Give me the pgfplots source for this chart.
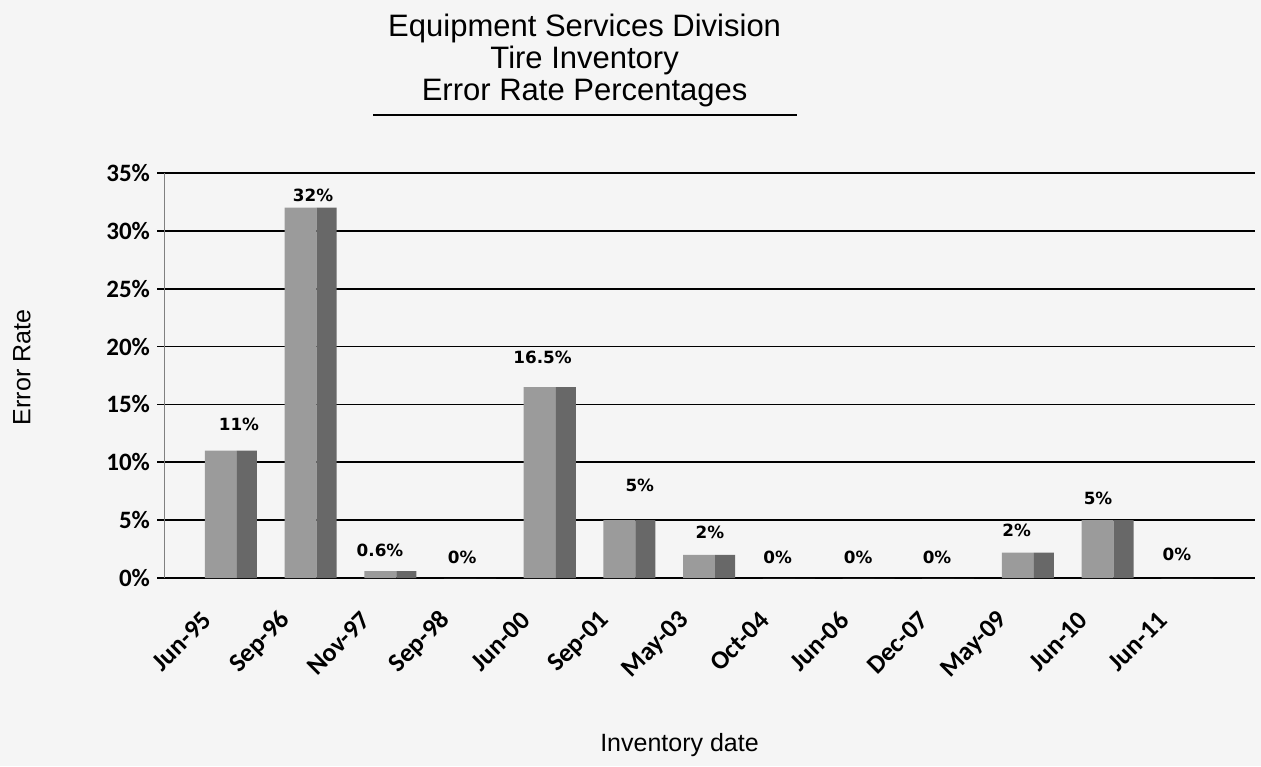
\documentclass[border=0pt]{standalone}
\usepackage{fontspec}
\setmainfont{Liberation Sans}
\newfontfamily\carlito{Carlito}
\newfontfamily\dejavubold{DejaVu Sans}[UprightFont=* Bold]
\usepackage{pgfplots}
\pgfplotsset{compat=1.18}
\usepackage{pgfplotstable}
\usetikzlibrary{backgrounds}

\definecolor{bgpaper}{RGB}{245,245,245}
\definecolor{barfront}{RGB}{155,155,155}
\definecolor{barside}{RGB}{104,104,104}

% error rate per inventory (percent)
\pgfplotstableread{
idx rate
0  11
1  32
2  0.6
3  0
4  16.5
5  5
6  2
7  0
8  0
9  0
10 2.2
11 5
12 0
}\ratedata

% label positions and text
\pgfplotstableread{
x     y     lbl
0.10  13.3  11
1.03  33.1  32
1.87  2.4   0.6
2.90  1.8   0
3.91  19.1  16.5
5.13  8.0   5
6.01  3.9   2
6.86  1.8   0
7.87  1.8   0
8.86  1.8   0
9.86  4.15  2
10.88 6.9   5
11.87 2.0   0
}\labeldata

\begin{document}
\begin{tikzpicture}
\begin{axis}[
  scale only axis,
  width=545pt, height=202.5pt,
  xmin=-0.828, xmax=12.85,
  ymin=0, ymax=35,
  axis x line*=bottom,
  axis y line*=left,
  x axis line style={black, line width=0.9pt, -},
  y axis line style={gray, line width=0.5pt, -},
  xtick={0,...,12},
  xticklabels={Jun-95,Sep-96,Nov-97,Sep-98,Jun-00,Sep-01,May-03,Oct-04,Jun-06,Dec-07,May-09,Jun-10,Jun-11},
  x tick style={draw=none},
  xticklabel style={xshift=-12pt, yshift=-15pt, rotate=45, anchor=east, inner sep=0pt,
    font=\carlito\bfseries\fontsize{13}{15}\selectfont},
  ytick={0,5,...,35},
  yticklabel={\pgfmathprintnumber{\tick}\%},
  yticklabel style={font=\carlito\bfseries\fontsize{12.5}{14}\selectfont},
  /pgf/number format/assume math mode=true,
  y tick style={black, line width=0.8pt},
  tick align=outside,
  major tick length=4pt,
  ymajorgrids=true,
  grid style={black, line width=0.9pt},
  clip=false,
]
\addplot[ybar, bar width=16pt, bar shift=-5pt, fill=barfront, draw=none]
  table[x=idx, y=rate]{\ratedata};
\addplot[ybar, bar width=10pt, bar shift=8pt, fill=barside, draw=none]
  table[x=idx, y=rate]{\ratedata};
\addplot[draw=none, mark=none,
  nodes near coords={\dejavubold\fontsize{8.4}{10}\selectfont\pgfplotspointmeta\%},
  point meta=explicit symbolic,
  nodes near coords style={anchor=center, inner sep=0pt}]
  table[x=x, y=y, meta=lbl]{\labeldata};

\node[anchor=south, align=center, inner sep=0pt, font=\fontsize{15.5}{16}\selectfont]
  at ([yshift=33pt]rel axis cs:0.385,1)
  {Equipment Services Division\\Tire Inventory\\Error Rate Percentages};
\draw[black, line width=0.9pt] ([yshift=29pt]rel axis cs:0.191,1) -- ([yshift=29pt]rel axis cs:0.580,1);
\node[rotate=90, font=\fontsize{12.5}{14}\selectfont]
  at ([xshift=-71.5pt]rel axis cs:0,0.52) {Error Rate};
\node[font=\fontsize{12.5}{14}\selectfont]
  at ([yshift=-83.5pt]rel axis cs:0.472,0) {Inventory date};
\end{axis}
\pgfresetboundingbox
\begin{scope}[on background layer]
\fill[bgpaper] ([shift={(-82.5pt,-94pt)}]current axis.south west) rectangle ++(630.5pt,383pt);
\end{scope}
\end{tikzpicture}
\end{document}
